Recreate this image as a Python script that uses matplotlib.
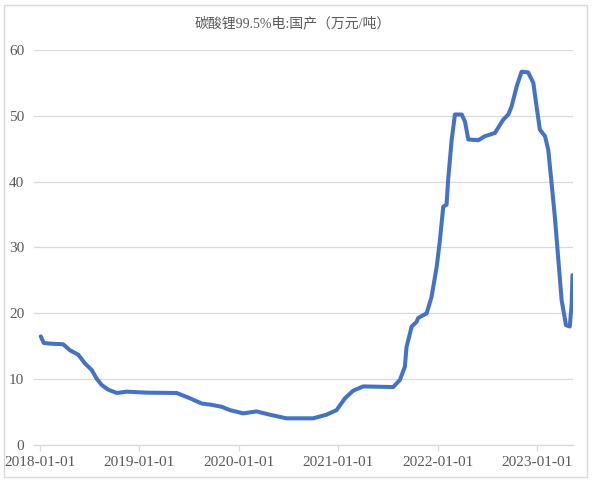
import matplotlib
matplotlib.use('Agg')
import matplotlib.pyplot as plt
import matplotlib.dates as mdates
from matplotlib.patches import Rectangle
import pandas as pd

# 碳酸锂99.5%电:国产, 万元/吨
dates = ['2018-01-04', '2018-01-15', '2018-02-06', '2018-03-27', '2018-04-21',
         '2018-05-22', '2018-06-15', '2018-07-10', '2018-07-28', '2018-08-16',
         '2018-09-09', '2018-10-10', '2018-11-16', '2019-01-28', '2019-05-18',
         '2019-07-06', '2019-08-18', '2019-09-24', '2019-10-31', '2019-11-30',
         '2020-01-18', '2020-03-07', '2020-04-25', '2020-06-25', '2020-10-01',
         '2020-11-19', '2020-12-26', '2021-01-26', '2021-02-25', '2021-04-03',
         '2021-07-22', '2021-08-16', '2021-09-03', '2021-09-09', '2021-09-22',
         '2021-09-28', '2021-10-16', '2021-10-22', '2021-11-22', '2021-12-10',
         '2021-12-29', '2022-01-10', '2022-01-22', '2022-02-03', '2022-02-09',
         '2022-02-22', '2022-03-06', '2022-03-31', '2022-04-12', '2022-04-24',
         '2022-05-31', '2022-06-24', '2022-07-31', '2022-08-30', '2022-09-18',
         '2022-09-30', '2022-10-19', '2022-11-06', '2022-11-30', '2022-12-19',
         '2022-12-31', '2023-01-12', '2023-01-31', '2023-02-12', '2023-02-24',
         '2023-03-08', '2023-03-20', '2023-04-02', '2023-04-18', '2023-05-02',
         '2023-05-09', '2023-05-12']
prices = [16.5, 15.5, 15.4, 15.3, 14.4,
          13.7, 12.4, 11.4, 10.1, 9.1,
          8.4, 7.9, 8.1, 7.95, 7.9,
          7.1, 6.3, 6.1, 5.8, 5.3,
          4.8, 5.1, 4.6, 4.05, 4.05,
          4.6, 5.3, 7.1, 8.25, 8.9,
          8.8, 9.9, 11.9, 14.9, 17.0,
          18.0, 18.7, 19.3, 20.0, 22.5,
          27.1, 31.2, 36.2, 36.5, 40.3,
          46.4, 50.2, 50.2, 49.1, 46.4,
          46.3, 46.9, 47.4, 49.4, 50.2,
          51.4, 54.5, 56.7, 56.6, 55.0,
          51.4, 47.9, 46.9, 44.8, 39.8,
          34.7, 28.6, 22.0, 18.2, 18.0,
          21.5, 25.8]
year_ticks = ['2018-01-01', '2019-01-01', '2020-01-01', '2021-01-01', '2022-01-01', '2023-01-01']
title = '碳酸锂99.5%电:国产（万元/吨）'

x = pd.to_datetime(dates)
txt = '#595959'

fig = plt.figure(figsize=(5.92, 4.83), dpi=100)
ax = fig.add_axes([0.0574, 0.0787, 0.9106, 0.8178])
ax.plot(x, prices, color='#4472C4', lw=2.9, solid_joinstyle='round', solid_capstyle='round')

ax.set_ylim(0, 60)
ax.set_yticks(range(0, 61, 10))
ax.set_xlim(pd.Timestamp('2017-12-10'), pd.Timestamp('2023-05-14'))
ax.set_xticks(pd.to_datetime(year_ticks))
ax.xaxis.set_major_formatter(mdates.DateFormatter('%Y-%m-%d'))

ax.grid(axis='y', color='#D9D9D9', lw=0.9)
ax.set_axisbelow(True)
for s in ['top', 'right', 'left']:
    ax.spines[s].set_visible(False)
ax.spines['bottom'].set_color('#D9D9D9')
ax.spines['bottom'].set_linewidth(0.9)
ax.tick_params(axis='y', length=0, pad=7, labelsize=11, labelcolor=txt)
ax.tick_params(axis='x', length=4, width=0.9, color='#D9D9D9', pad=4, labelsize=11, labelcolor=txt)
for lab in ax.get_xticklabels() + ax.get_yticklabels():
    lab.set_family('Liberation Serif')

fig.text(0.495, 0.952, title, ha='center', va='center', fontsize=10, color=txt,
         family=['Liberation Serif', 'Noto Sans CJK SC'])

fig.patches.append(Rectangle((0.007, 0.013), 0.984, 0.977, transform=fig.transFigure,
                             fill=False, edgecolor='#D9D9D9', lw=1))

fig.savefig('out.png', dpi=100)
